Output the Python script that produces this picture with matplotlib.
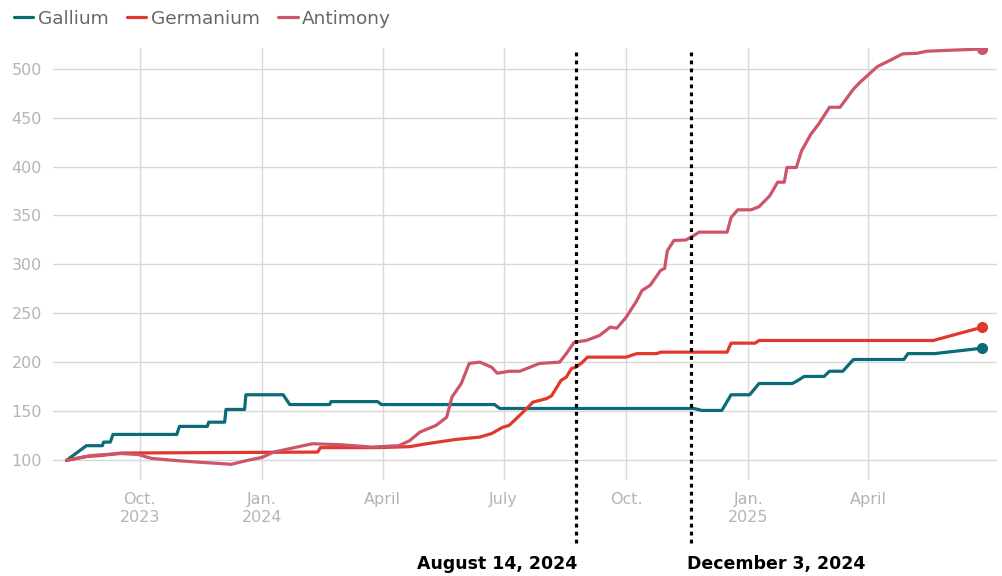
import pandas as pd
import matplotlib.pyplot as plt

# Index values (start = 100)
gallium_dates = ['2023-08-07', '2023-08-22', '2023-09-03', '2023-09-04', '2023-09-09', '2023-09-11',
                 '2023-10-29', '2023-10-31', '2023-11-21', '2023-11-22', '2023-12-04', '2023-12-05',
                 '2023-12-19', '2023-12-20', '2024-01-17', '2024-01-22', '2024-02-21', '2024-02-22',
                 '2024-03-28', '2024-03-31', '2024-06-24', '2024-06-28', '2024-11-21', '2024-11-27',
                 '2024-12-12', '2024-12-19', '2025-01-02', '2025-01-09', '2025-02-03', '2025-02-06',
                 '2025-02-12', '2025-02-27', '2025-03-03', '2025-03-13', '2025-03-21', '2025-04-28',
                 '2025-05-01', '2025-05-21', '2025-06-26']
gallium_values = [100, 115, 115, 118.7, 118.7, 126.5,
                  126.5, 134.7, 134.7, 139, 139, 152,
                  152, 167, 167, 157, 157, 160,
                  160, 157, 157, 153, 153, 151,
                  151, 167, 167, 178.5, 178.5, 180.6,
                  185.7, 185.7, 191, 191, 203, 203,
                  209, 209, 214.6]

germanium_dates = ['2023-08-07', '2023-08-22', '2023-09-02', '2023-09-17', '2024-02-12', '2024-02-14',
                   '2024-03-26', '2024-04-21', '2024-05-04', '2024-05-26', '2024-06-13', '2024-06-22',
                   '2024-06-30', '2024-07-05', '2024-07-13', '2024-07-23', '2024-08-02', '2024-08-06',
                   '2024-08-13', '2024-08-17', '2024-08-21', '2024-08-24', '2024-08-29', '2024-09-02',
                   '2024-10-01', '2024-10-09', '2024-10-24', '2024-10-27', '2024-12-16', '2024-12-19',
                   '2025-01-06', '2025-01-09', '2025-05-20', '2025-06-26']
germanium_values = [100, 104, 105, 107.5, 108.5, 113,
                    113, 114, 117, 121.4, 123.8, 127.5,
                    133.7, 135.7, 146, 159.5, 163, 166,
                    181.6, 185, 193.9, 195, 200, 205.4,
                    205.4, 209, 209, 210.5, 210.5, 219.7,
                    219.7, 222.4, 222.4, 236]

antimony_dates = ['2023-08-07', '2023-08-26', '2023-09-17', '2023-09-30', '2023-10-10', '2023-10-27',
                  '2023-11-13', '2023-11-28', '2023-12-09', '2023-12-21', '2024-01-01', '2024-01-10',
                  '2024-02-08', '2024-02-29', '2024-03-24', '2024-04-13', '2024-04-21', '2024-04-29',
                  '2024-05-11', '2024-05-19', '2024-05-23', '2024-05-30', '2024-06-05', '2024-06-13',
                  '2024-06-22', '2024-06-26', '2024-07-05', '2024-07-13', '2024-07-28', '2024-08-12',
                  '2024-08-17', '2024-08-23', '2024-09-01', '2024-09-11', '2024-09-19', '2024-09-24',
                  '2024-10-01', '2024-10-09', '2024-10-13', '2024-10-19', '2024-10-27', '2024-10-30',
                  '2024-11-01', '2024-11-06', '2024-11-15', '2024-11-21', '2024-11-25', '2024-12-16',
                  '2024-12-19', '2024-12-24', '2025-01-03', '2025-01-09', '2025-01-17', '2025-01-23',
                  '2025-01-28', '2025-01-30', '2025-02-06', '2025-02-10', '2025-02-17', '2025-02-23',
                  '2025-03-03', '2025-03-11', '2025-03-21', '2025-03-26', '2025-04-02', '2025-04-08',
                  '2025-04-17', '2025-04-27', '2025-05-08', '2025-05-15', '2025-06-26']
antimony_values = [100, 105, 107, 106, 102, 100,
                   98.3, 97, 96, 100, 103, 108.5,
                   117, 116, 113.6, 115, 120, 129,
                   135.7, 144, 164.6, 178.5, 199, 200.3,
                   195, 189, 191, 191, 199, 200.3,
                   209, 220.7, 222.4, 227.5, 236, 235,
                   246, 263, 273.5, 278.6, 294, 296,
                   314, 324.5, 325, 329.6, 333, 333,
                   348, 355.8, 355.8, 359, 370, 384,
                   384, 399, 399, 416, 433, 443.6,
                   460.5, 460.5, 479, 486, 494.6, 502,
                   508, 515, 515.6, 517.7, 520]

series = [('Gallium', gallium_dates, gallium_values, '#0b6b78'),
          ('Germanium', germanium_dates, germanium_values, '#e1372c'),
          ('Antimony', antimony_dates, antimony_values, '#cd5569')]

events = [('2024-08-24', 'August 14, 2024', 'right'),
          ('2024-11-19', 'December 3, 2024', 'left')]

xticks = ['2023-10-01', '2024-01-01', '2024-04-01', '2024-07-01', '2024-10-01', '2025-01-01', '2025-04-01']
xlabels = ['Oct.\n2023', 'Jan.\n2024', 'April', 'July', 'Oct.', 'Jan.\n2025', 'April']
yticks = [100, 150, 200, 250, 300, 350, 400, 450, 500]

grey = '#b4b4b4'

fig = plt.figure(figsize=(10.03, 5.76), dpi=100)
ax = fig.add_axes([0.053, 0.1667, 0.941, 0.75])

for name, d, v, c in series:
    d = pd.to_datetime(d)
    ax.plot(d, v, color=c, lw=2.3, label=name, solid_joinstyle='round', solid_capstyle='round', zorder=3)
    ax.plot(d[-1], v[-1], 'o', color=c, ms=7, zorder=4)

for d, label, ha in events:
    x = pd.Timestamp(d)
    ax.axvline(x, ymin=-0.146, ymax=0.995, color='black', lw=2.3,
               linestyle=(0, (1.2, 1.3)), clip_on=False, zorder=5)
    dx = 1 if ha == 'right' else -3
    ax.text(x + pd.Timedelta(days=dx), -0.195, label, transform=ax.get_xaxis_transform(),
            ha=ha, va='center', fontsize=12.5, fontweight='bold', color='black')

ax.set_xlim(pd.Timestamp('2023-07-28'), pd.Timestamp('2025-07-07'))
ax.set_ylim(80, 521)
ax.set_xticks(pd.to_datetime(xticks))
ax.set_xticklabels(xlabels)
ax.set_yticks(yticks)
ax.tick_params(axis='both', length=0, colors=grey, labelsize=11.5)
ax.tick_params(axis='x', pad=9)
ax.tick_params(axis='y', pad=8)
ax.grid(True, color='#d8d8d8', lw=1)
ax.set_axisbelow(True)
for s in ax.spines.values():
    s.set_visible(False)

fig.legend(loc='upper left', bbox_to_anchor=(-0.003, 1.012), ncol=3, frameon=False,
           fontsize=13.3, handlelength=1.05, handletextpad=0.25, columnspacing=1.0,
           labelcolor='#666666')

fig.savefig('out.png', dpi=100)
